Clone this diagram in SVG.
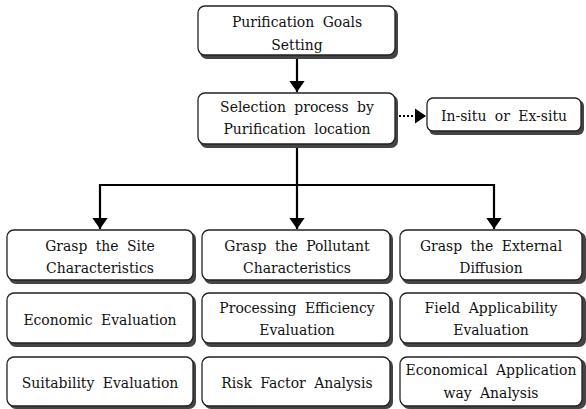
<svg xmlns="http://www.w3.org/2000/svg" width="586" height="409" viewBox="0 0 586 409">
<style>
.box{fill:#fff;stroke:#222;stroke-width:1.3}
.sh{fill:#444}
.t{font-size:15.5px;fill:#111;text-anchor:middle;word-spacing:4px;font-stretch:condensed}
.ln{stroke:#000;stroke-width:2.2;fill:none}
</style>
<defs>
<marker id="ah" viewBox="0 0 10 14" refX="10" refY="7" markerWidth="5.2" markerHeight="7.2" orient="auto" markerUnits="strokeWidth" preserveAspectRatio="none">
<path d="M0,0 L10,7 L0,14 Z" fill="#000"/>
</marker>
</defs>
<g id="connectors">
<line class="ln" x1="297" y1="57" x2="297" y2="92" marker-end="url(#ah)"/>
<line class="ln" x1="399" y1="116" x2="426" y2="116" stroke-dasharray="2,2" marker-end="url(#ah)"/>
<polyline class="ln" points="297,147 297,185"/>
<polyline class="ln" points="100,185 494,185"/>
<line class="ln" x1="100" y1="184" x2="100" y2="229" marker-end="url(#ah)"/>
<line class="ln" x1="297" y1="184" x2="297" y2="229" marker-end="url(#ah)"/>
<line class="ln" x1="494" y1="184" x2="494" y2="229" marker-end="url(#ah)"/>
</g>
<g font-family="DejaVu Serif Condensed, DejaVu Serif, serif">
<g id="goals">
<rect class="sh" x="200" y="8" width="198" height="51" rx="7"/>
<rect class="box" x="198" y="6" width="197" height="49" rx="7"/>
<text class="t" x="297" y="27">Purification Goals</text>
<text class="t" x="297" y="50">Setting</text>
</g>
<g id="selection">
<rect class="sh" x="200" y="95" width="198" height="53" rx="7"/>
<rect class="box" x="198" y="93" width="197" height="51" rx="7"/>
<text class="t" x="297" y="112">Selection process by</text>
<text class="t" x="297" y="134">Purification location</text>
</g>
<g id="insitu">
<rect class="sh" x="429" y="100" width="155" height="35" rx="6"/>
<rect class="box" x="427" y="98" width="154" height="33" rx="6"/>
<text class="t" x="504" y="121">In-situ or Ex-situ</text>
</g>
<g id="site">
<rect class="sh" x="9" y="232" width="187" height="52" rx="7"/>
<rect class="box" x="7" y="230" width="186" height="50" rx="7"/>
<text class="t" x="100" y="251">Grasp the Site</text>
<text class="t" x="100" y="273">Characteristics</text>
</g>
<g id="pollutant">
<rect class="sh" x="204" y="232" width="189" height="52" rx="7"/>
<rect class="box" x="202" y="230" width="188" height="50" rx="7"/>
<text class="t" x="297" y="251">Grasp the Pollutant</text>
<text class="t" x="297" y="273">Characteristics</text>
</g>
<g id="external">
<rect class="sh" x="402" y="232" width="184" height="52" rx="7"/>
<rect class="box" x="400" y="230" width="182" height="50" rx="7"/>
<text class="t" x="491" y="251">Grasp the External</text>
<text class="t" x="491" y="273">Diffusion</text>
</g>
<g id="economic">
<rect class="sh" x="9" y="295" width="187" height="52" rx="7"/>
<rect class="box" x="7" y="293" width="186" height="50" rx="7"/>
<text class="t" x="100" y="325">Economic Evaluation</text>
</g>
<g id="efficiency">
<rect class="sh" x="204" y="295" width="189" height="52" rx="7"/>
<rect class="box" x="202" y="293" width="188" height="50" rx="7"/>
<text class="t" x="297" y="313">Processing Efficiency</text>
<text class="t" x="297" y="335">Evaluation</text>
</g>
<g id="field">
<rect class="sh" x="402" y="295" width="184" height="52" rx="7"/>
<rect class="box" x="400" y="293" width="182" height="50" rx="7"/>
<text class="t" x="491" y="313">Field Applicability</text>
<text class="t" x="491" y="335">Evaluation</text>
</g>
<g id="suitability">
<rect class="sh" x="9" y="359" width="187" height="50" rx="7"/>
<rect class="box" x="7" y="357" width="186" height="49" rx="7"/>
<text class="t" x="100" y="388">Suitability Evaluation</text>
</g>
<g id="risk">
<rect class="sh" x="204" y="359" width="189" height="50" rx="7"/>
<rect class="box" x="202" y="357" width="188" height="49" rx="7"/>
<text class="t" x="297" y="388">Risk Factor Analysis</text>
</g>
<g id="application">
<rect class="sh" x="402" y="359" width="184" height="50" rx="7"/>
<rect class="box" x="400" y="357" width="182" height="49" rx="7"/>
<text class="t" x="491" y="375">Economical Application</text>
<text class="t" x="491" y="398">way Analysis</text>
</g>
</g>
</svg>
